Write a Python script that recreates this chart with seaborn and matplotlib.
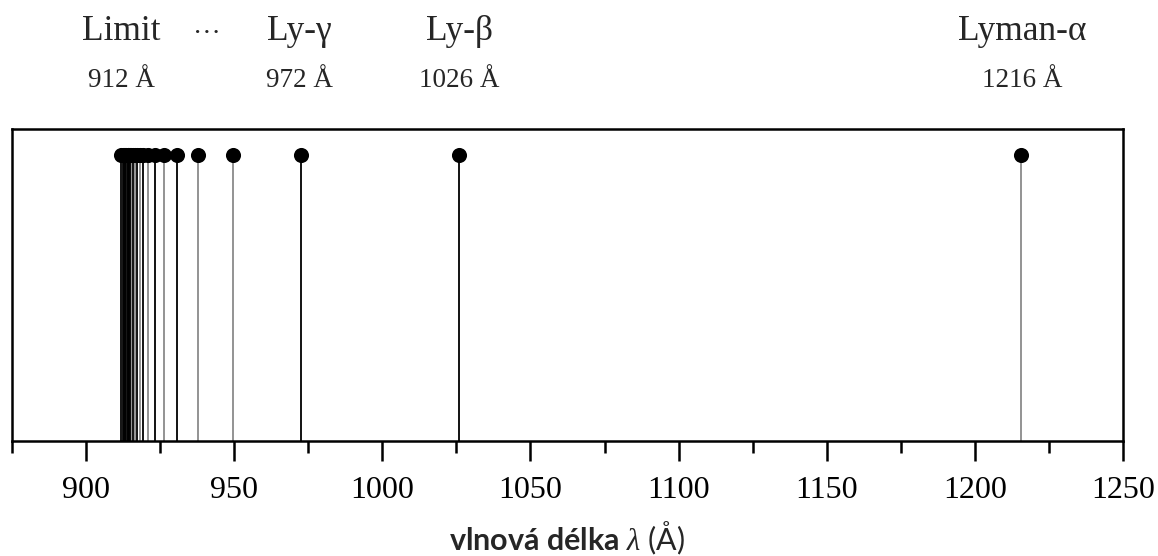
import matplotlib
matplotlib.use("Agg")
import matplotlib.pyplot as plt
import matplotlib.transforms as mtransforms
import seaborn as sns
import pandas as pd

# ---- data ----
wavelengths = [1215.67, 1025.72, 972.54, 949.74, 937.80, 930.75, 926.23, 923.15,
               920.96, 919.35, 918.13, 917.18, 916.43, 915.82, 915.33, 914.92,
               914.58, 914.29, 914.04, 913.64, 913.21, 912.77, 912.32, 911.75]
line_shade = ["gray", "black", "black", "gray", "gray", "black", "gray", "black",
              "gray", "black", "gray", "black", "gray", "black", "gray", "black",
              "black", "black", "black", "black", "black", "black", "black", "black"]
label_names = ["Limit", "Ly-γ", "Ly-β", "Lyman-α"]
label_pos = [912, 972, 1026, 1216]
label_vals = ["912 Å", "972 Å", "1026 Å", "1216 Å"]
xticks_major = [900, 950, 1000, 1050, 1100, 1150, 1200, 1250]
xticks_minor = [875, 925, 975, 1025, 1075, 1125, 1175, 1225]
stem_height = 0.917

sns.set_theme(style="white")
plt.rcParams.update({
    "font.family": ["Liberation Serif", "DejaVu Serif"],
    "mathtext.fontset": "custom",
    "mathtext.bf": "Lato:bold",
    "mathtext.rm": "Lato",
    "mathtext.it": "Liberation Serif:italic",
    "xtick.bottom": True,
    "xtick.direction": "out",
    "xtick.major.size": 14.4,
    "xtick.major.width": 1.8,
    "xtick.minor.size": 8.6,
    "xtick.minor.width": 1.8,
    "xtick.minor.visible": True,
    "xtick.major.pad": 11,
    "xtick.color": "black",
})

fig = plt.figure(figsize=(11.58, 5.56), dpi=100)
ax = fig.add_axes([12 / 1158, (556 - 440.7) / 556, (1123 - 12) / 1158, 311.4 / 556])

df = pd.DataFrame({"wl": wavelengths, "h": [stem_height] * len(wavelengths),
                   "shade": line_shade})
colors = {"gray": "#8a8a8a", "black": "#000000"}
for shade in ["gray", "black"]:
    sub = df[df["shade"] == shade]
    ax.vlines(sub["wl"], 0, sub["h"], colors=colors[shade], linewidth=1.3, zorder=2)
sns.scatterplot(data=df, x="wl", y="h", color="black", s=118, linewidth=0,
                ax=ax, zorder=3, legend=False)

ax.set_xlim(875, 1250)
ax.set_ylim(0, 1)
ax.set_yticks([])
ax.set_xticks(xticks_major)
ax.set_xticks(xticks_minor, minor=True)
ax.set_xticklabels([str(t) for t in xticks_major], fontsize=23)
ax.tick_params(axis="x", which="major", bottom=True, length=14.4, width=1.8)
ax.tick_params(axis="x", which="minor", bottom=True, length=8.6, width=1.8)
for sp in ax.spines.values():
    sp.set_visible(True)
    sp.set_color("black")
    sp.set_linewidth(1.8)
ax.set_ylabel("")
ax.set_xlabel(r"$\mathbf{vlnová\ délka}\ \lambda$ (Å)", family="Lato",
              fontsize=22, labelpad=11)

trans = mtransforms.blended_transform_factory(ax.transData, ax.transAxes)
for name, pos, val in zip(label_names, label_pos, label_vals):
    ax.text(pos, 1.287, name, transform=trans, ha="center", va="baseline",
            fontsize=25.5, clip_on=False)
    ax.text(pos, 1.136, val, transform=trans, ha="center", va="baseline",
            fontsize=19.5, clip_on=False)
ax.text(940.8, 1.305, "···", transform=trans, ha="center", va="center",
        fontsize=20, clip_on=False)

fig.savefig("out.png", dpi=100)
